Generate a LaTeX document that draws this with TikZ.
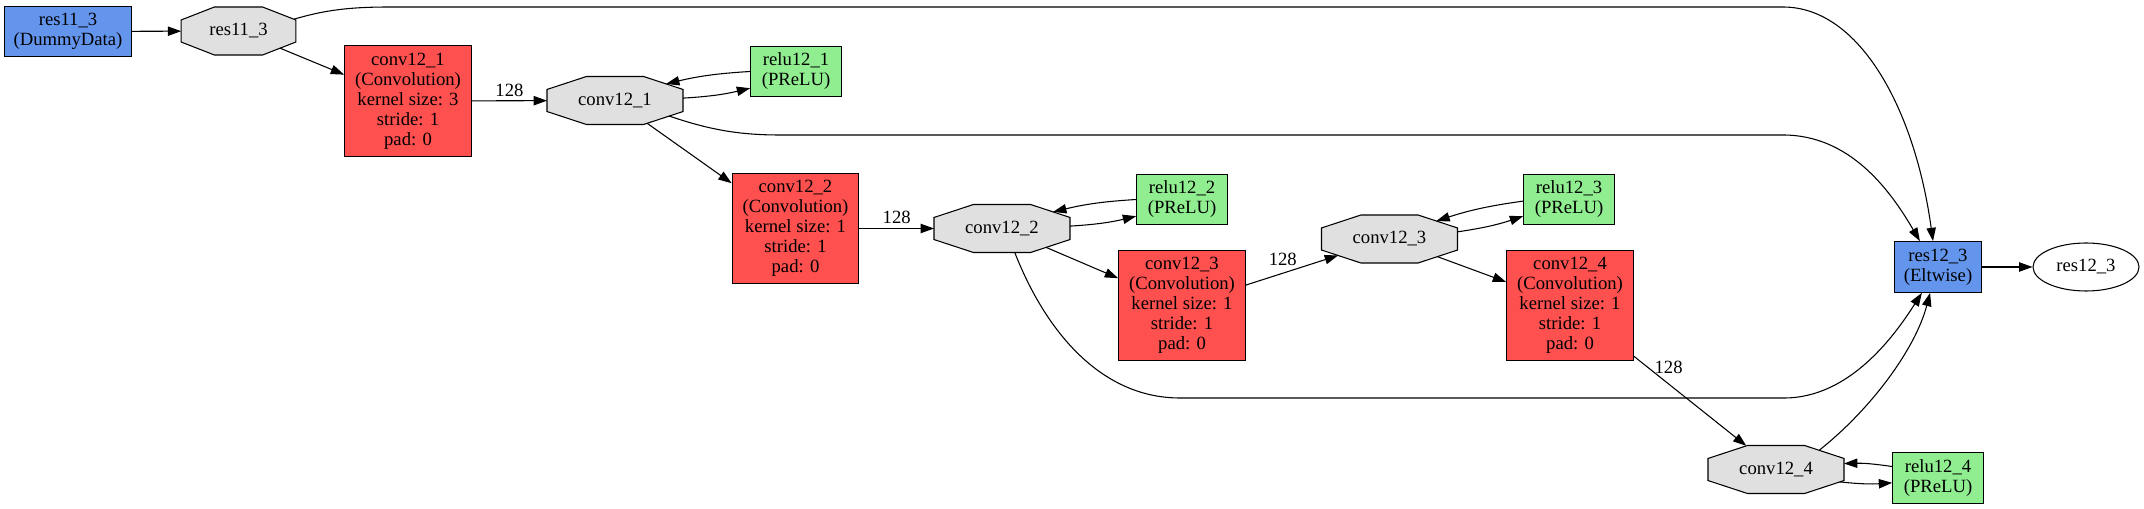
\documentclass[tikz,border=0pt]{standalone}
\usepackage{fontspec}
\setmainfont{Liberation Serif}
\usetikzlibrary{shapes.geometric,arrows.meta}
\definecolor{dataBlue}{HTML}{6495ED}
\definecolor{convRed}{HTML}{FF5050}
\definecolor{reluGreen}{HTML}{90EE90}
\definecolor{blobGray}{HTML}{E0E0E0}
% stretched octagon for blobs
\makeatletter
\pgfdeclareshape{caffeblob}{%
  \inheritsavedanchors[from=rectangle]%
  \inheritanchor[from=rectangle]{center}%
  \inheritanchor[from=rectangle]{text}%
  \inheritanchor[from=rectangle]{base}%
  \inheritanchor[from=rectangle]{mid}%
  \inheritanchor[from=rectangle]{north}%
  \inheritanchor[from=rectangle]{south}%
  \inheritanchor[from=rectangle]{east}%
  \inheritanchor[from=rectangle]{west}%
  \backgroundpath{%
    \southwest\pgf@xa=\pgf@x\pgf@ya=\pgf@y%
    \northeast\pgf@xb=\pgf@x\pgf@yb=\pgf@y%
    \pgf@xc=\pgf@xb\advance\pgf@xc by-\pgf@xa\pgf@xc=0.29\pgf@xc%
    \pgf@yc=\pgf@yb\advance\pgf@yc by-\pgf@ya\pgf@yc=0.27\pgf@yc%
    \pgf@x=\pgf@xa\advance\pgf@x by\pgf@xc\edef\blobxl{\the\pgf@x}%
    \pgf@x=\pgf@xb\advance\pgf@x by-\pgf@xc\edef\blobxr{\the\pgf@x}%
    \pgf@y=\pgf@ya\advance\pgf@y by\pgf@yc\edef\blobyl{\the\pgf@y}%
    \pgf@y=\pgf@yb\advance\pgf@y by-\pgf@yc\edef\blobyu{\the\pgf@y}%
    \edef\blobxa{\the\pgf@xa}\edef\blobxb{\the\pgf@xb}%
    \edef\blobya{\the\pgf@ya}\edef\blobyb{\the\pgf@yb}%
    \pgfpathmoveto{\pgfqpoint{\blobxl}{\blobya}}%
    \pgfpathlineto{\pgfqpoint{\blobxr}{\blobya}}%
    \pgfpathlineto{\pgfqpoint{\blobxb}{\blobyl}}%
    \pgfpathlineto{\pgfqpoint{\blobxb}{\blobyu}}%
    \pgfpathlineto{\pgfqpoint{\blobxr}{\blobyb}}%
    \pgfpathlineto{\pgfqpoint{\blobxl}{\blobyb}}%
    \pgfpathlineto{\pgfqpoint{\blobxa}{\blobyu}}%
    \pgfpathlineto{\pgfqpoint{\blobxa}{\blobyl}}%
    \pgfpathclose%
  }%
  \anchorborder{%
    \edef\blobdx{\pgf@sys@tonumber\pgf@x}%
    \edef\blobdy{\pgf@sys@tonumber\pgf@y}%
    \southwest\pgf@xa=\pgf@x\pgf@ya=\pgf@y%
    \northeast\pgf@xb=\pgf@x\pgf@yb=\pgf@y%
    \pgf@xc=\pgf@xb\advance\pgf@xc by-\pgf@xa\pgf@xc=.5\pgf@xc%
    \pgf@yc=\pgf@yb\advance\pgf@yc by-\pgf@ya\pgf@yc=.5\pgf@yc%
    \advance\pgf@xa by\pgf@xc\advance\pgf@ya by\pgf@yc%
    \edef\blobA{\pgf@sys@tonumber\pgf@xc}\edef\blobB{\pgf@sys@tonumber\pgf@yc}%
    \edef\blobcx{\the\pgf@xa}\edef\blobcy{\the\pgf@ya}%
    \pgfmathsetmacro\bloblen{veclen(\blobdx,\blobdy)}%
    \pgfmathsetmacro\blobux{100*\blobdx/\bloblen}%
    \pgfmathsetmacro\blobuy{100*\blobdy/\bloblen}%
    \pgfmathsetmacro\blobs{max(abs(\blobux)/\blobA,abs(\blobuy)/\blobB,(abs(\blobux)/(0.58*\blobA)+abs(\blobuy)/(0.54*\blobB))/2.576)}%
    \pgfmathsetmacro\blobpx{\blobux/\blobs}%
    \pgfmathsetmacro\blobpy{\blobuy/\blobs}%
    \pgf@x=\blobpx pt\advance\pgf@x by\blobcx%
    \pgf@y=\blobpy pt\advance\pgf@y by\blobcy%
  }%
}
\makeatother
\tikzset{
  every node/.style={font=\fontsize{14}{15}\selectfont, align=center, inner sep=0pt},
  layer/.style={draw, rectangle, line width=0.8pt},
  datalayer/.style={layer, fill=dataBlue, minimum width=95pt, minimum height=38pt},
  convlayer/.style={layer, fill=convRed, minimum width=95pt, minimum height=83pt},
  relulayer/.style={layer, fill=reluGreen, minimum width=68pt, minimum height=38pt},
  blob/.style={shape=caffeblob, draw, line width=0.8pt, fill=blobGray, outer sep=0pt,
    minimum width=102pt, minimum height=36pt},
  conn/.style={line width=0.8pt, -{Triangle[length=10pt,width=7pt]}},
}
\begin{document}
\begin{tikzpicture}[x=0.75pt,y=-0.75pt]
  \useasboundingbox (0,0) rectangle (2144,509);
  \node[datalayer] (data) at (68,31.5) {res11\_3\\(DummyData)};
  \node[blob, minimum width=86pt] (r113) at (238.5,31) {res11\_3};
  \node[convlayer] (c121) at (408,101) {conv12\_1\\(Convolution)\\kernel size: 3\\stride: 1\\pad: 0};
  \node[blob] (b121) at (615,100.5) {conv12\_1};
  \node[relulayer] (r121) at (796,71.5) {relu12\_1\\(PReLU)};
  \node[convlayer] (c122) at (795.5,228.5) {conv12\_2\\(Convolution)\\kernel size: 1\\stride: 1\\pad: 0};
  \node[blob] (b122) at (1002,228.5) {conv12\_2};
  \node[relulayer] (r122) at (1182,199.5) {relu12\_2\\(PReLU)};
  \node[convlayer] (c123) at (1182,305.5) {conv12\_3\\(Convolution)\\kernel size: 1\\stride: 1\\pad: 0};
  \node[blob] (b123) at (1389.5,239) {conv12\_3};
  \node[relulayer] (r123) at (1569,199.5) {relu12\_3\\(PReLU)};
  \node[convlayer] (c124) at (1570,305.5) {conv12\_4\\(Convolution)\\kernel size: 1\\stride: 1\\pad: 0};
  \node[blob] (b124) at (1776,469.5) {conv12\_4};
  \node[relulayer] (r124) at (1938,478) {relu12\_4\\(PReLU)};
  \node[layer, fill=dataBlue, minimum width=65pt, minimum height=38pt] (elt) at (1938,267) {res12\_3\\(Eltwise)};
  \node[draw, line width=0.8pt, ellipse, minimum width=79.5pt, minimum height=36pt] (out) at (2086,267) {res12\_3};
  % main chain
  \draw[conn] (data) -- (r113);
  \draw[conn] (r113) -- (c121);
  \draw[conn] (c121) -- node[above=3pt] {128} (b121);
  \draw[conn] (b121) -- (c122);
  \draw[conn] (c122) -- node[above=3pt] {128} (b122);
  \draw[conn] (b122) -- (c123);
  \draw[conn] (c123) -- node[above=5pt, pos=0.4] {128} (b123);
  \draw[conn] (b123) -- (c124);
  \draw[conn] (c124) -- node[right=5pt, pos=0.12] {128} (b124);
  \draw[conn] (elt) -- (out);
  % in-place relu
  \draw[conn] (b121.2) to[bend right=5] (r121.200);
  \draw[conn] (r121.180) to[bend right=5] (b121.18);
  \draw[conn] (b122.2) to[bend right=5] (r122.200);
  \draw[conn] (r122.180) to[bend right=5] (b122.18);
  \draw[conn] (b123.6) to[bend right=5] (r123.200);
  \draw[conn] (r123.182) to[bend right=5] (b123.21);
  \draw[conn] (b124.-11) to[bend right=5] (r124.186);
  \draw[conn] (r124.166) to[bend right=5] (b124.5);
  % eltwise inputs
  \draw[conn] (r113.12) .. controls (325,10) and (350,7) .. (390,7) -- (1783,7)
    .. controls (1860,7) and (1915,110) .. (elt.101);
  \draw[conn] (b121.-16) .. controls (710,130) and (740,135) .. (780,135) -- (1783,135)
    .. controls (1850,135) and (1890,190) .. (elt.125);
  \draw[conn] (b122.-62) .. controls (1045,330) and (1100,398) .. (1180,398) -- (1784,398)
    .. controls (1850,398) and (1895,335) .. (elt.238);
  \draw[conn] (b124.24) .. controls (1870,410) and (1915,350) .. (elt.253);
\end{tikzpicture}
\end{document}
